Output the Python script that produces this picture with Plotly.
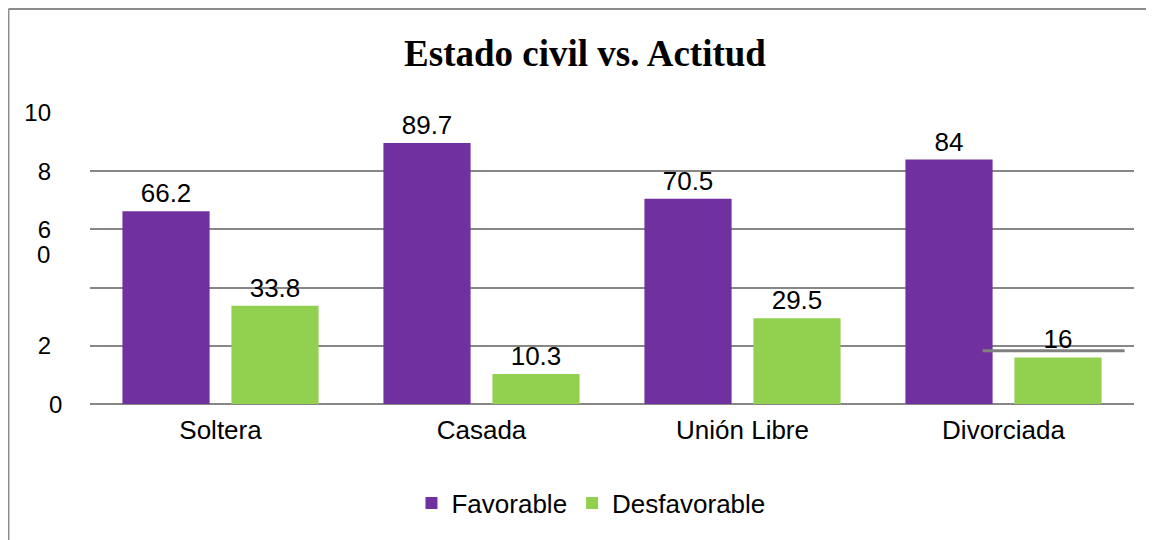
import plotly.graph_objects as go

categories = ["Soltera", "Casada", "Unión Libre", "Divorciada"]
favorable = [66.2, 89.7, 70.5, 84]
desfavorable = [33.8, 10.3, 29.5, 16]
series_names = ["Favorable", "Desfavorable"]
y_tick_values = [0, 20, 40, 60, 80, 100]
y_tick_labels = ["", "2", "", "6", "8", "10"]
title_text = "Estado civil vs. Actitud"

PURPLE = "#7030A0"
GREEN = "#92D050"
GRID = "#878787"
FONT = "Liberation Sans, Arial, sans-serif"

fig = go.Figure()
for name, vals, col in [(series_names[0], favorable, PURPLE), (series_names[1], desfavorable, GREEN)]:
    fig.add_trace(go.Bar(
        x=categories, y=vals, name=name, marker=dict(color=col, line=dict(width=0)),
        text=[f"{v:g}" for v in vals], textposition="outside", cliponaxis=False,
        textfont=dict(family=FONT, size=26, color="#000000"),
    ))

fig.update_layout(
    width=1146, height=532,
    margin=dict(l=82, r=20, t=105, b=136),
    paper_bgcolor="white", plot_bgcolor="white",
    barmode="group", bargap=0.165, bargroupgap=0.2,
    title=dict(text="<b>" + title_text + "</b>", x=0.5035, xref="container", y=0.9154, yref="container",
               xanchor="center", yanchor="middle",
               font=dict(family="Liberation Serif, Times New Roman, serif", size=37, color="#000000")),
    legend=dict(orientation="h", x=0.5087, xref="container", xanchor="center",
                y=0.0695, yref="container", yanchor="middle",
                font=dict(family=FONT, size=26, color="#000000"),
                itemwidth=30, tracegroupgap=0),
    showlegend=True,
    yaxis=dict(range=[0, 100], tickvals=y_tick_values, ticktext=y_tick_labels,
               showgrid=True, gridcolor=GRID, gridwidth=2, zeroline=True, zerolinecolor=GRID, zerolinewidth=2,
               showline=False, ticks="", ticklabelstandoff=38,
               tickfont=dict(family=FONT, size=24, color="#000000")),
    xaxis=dict(showgrid=False, showline=False, ticks="", ticklabelstandoff=8,
               tickfont=dict(family=FONT, size=26, color="#000000")),
)

# second line of the wrapped "60" tick label
fig.add_annotation(x=0, xref="paper", xanchor="right", xshift=-38, y=60, yref="y", yshift=-25,
                   text="0", showarrow=False, font=dict(family=FONT, size=24, color="#000000"))
# zero tick label (sits closer to the axis in the original)
fig.add_annotation(x=0, xref="paper", xanchor="right", xshift=-26, y=0, yref="y",
                   text="0", showarrow=False, font=dict(family=FONT, size=24, color="#000000"))

# outer frame of chart area (top and left edges only are visible)
fig.add_shape(type="line", xref="paper", yref="paper", x0=-0.0781, x1=1.05, y0=1.357, y1=1.357,
              line=dict(color="#8C8C8C", width=2), layer="below")
fig.add_shape(type="line", xref="paper", yref="paper", x0=-0.0781, x1=-0.0781, y0=-0.6, y1=1.357,
              line=dict(color="#8C8C8C", width=2), layer="below")
# stray line near last label
fig.add_shape(type="line", xref="paper", yref="y", x0=0.855, x1=0.991, y0=18.3, y1=18.3,
              line=dict(color="#808080", width=3))

fig.write_html("out.html")
